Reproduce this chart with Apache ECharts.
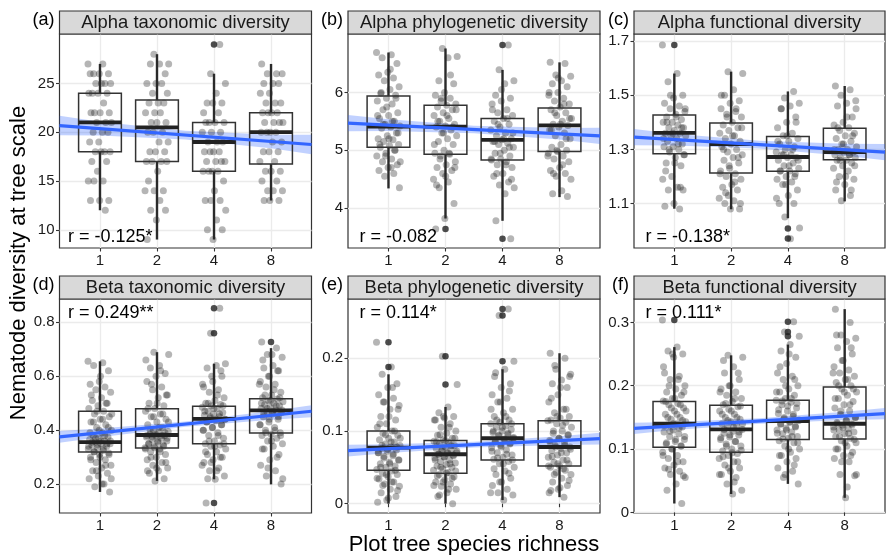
<!DOCTYPE html>
<html><head><meta charset="utf-8">
<script src="https://cdn.jsdelivr.net/npm/echarts@6/dist/echarts.min.js"></script>
<style>html,body{margin:0;padding:0;background:#fff}#c{width:887px;height:555px}</style>
</head><body><div id="c"></div>
<script>
// ---------- DATA ----------
const categories = ['1', '2', '4', '8'];
const panelTitles = ['Alpha taxonomic diversity', 'Alpha phylogenetic diversity', 'Alpha functional diversity',
  'Beta taxonomic diversity', 'Beta phylogenetic diversity', 'Beta functional diversity'];
const panelTags = ['(a)', '(b)', '(c)', '(d)', '(e)', '(f)'];
const rLabels = ['r = -0.125*', 'r = -0.082', 'r = -0.138*', 'r = 0.249**', 'r = 0.114*', 'r = 0.111*'];
const xTitle = 'Plot tree species richness';
const yTitle = 'Nematode diversity at tree scale';

const yTicksAlphaTax = [10, 15, 20, 25];
const yTicksAlphaPhy = [4, 5, 6];
const yTicksAlphaFun = [1.1, 1.3, 1.5, 1.7];
const yTicksBetaTax = [0.2, 0.4, 0.6, 0.8];
const yTicksBetaPhy = [0, 0.1, 0.2];
const yTicksBetaFun = [0, 0.1, 0.2, 0.3];

// box stats per richness level: [lower whisker, Q1, median, Q3, upper whisker]
const boxAlphaTax = [[12, 18, 21, 24, 27], [9, 17, 20.5, 23.3, 28], [9, 16, 19, 21, 26], [13, 16.75, 20, 22, 27]];
const boxAlphaPhy = [[4.34, 5.05, 5.41, 5.94, 6.69], [3.82, 4.93, 5.41, 5.78, 6.76], [3.78, 4.83, 5.18, 5.55, 6.39], [4.19, 4.98, 5.43, 5.73, 6.52]];
const boxAlphaFun = [[1.081, 1.284, 1.361, 1.427, 1.58], [1.079, 1.213, 1.32, 1.397, 1.587], [1.046, 1.219, 1.272, 1.348, 1.514], [1.108, 1.262, 1.29, 1.378, 1.534]];
const boxBetaTax = [[0.171, 0.319, 0.356, 0.47, 0.655], [0.212, 0.334, 0.382, 0.479, 0.689], [0.218, 0.35, 0.442, 0.489, 0.646], [0.199, 0.389, 0.473, 0.516, 0.704]];
const boxBetaPhy = [[0, 0.046, 0.077, 0.1, 0.178], [0, 0.042, 0.068, 0.087, 0.133], [0.005, 0.06, 0.09, 0.11, 0.185], [0.009, 0.052, 0.078, 0.114, 0.207]];
const boxBetaFun = [[0.014, 0.103, 0.14, 0.175, 0.261], [0.029, 0.095, 0.131, 0.169, 0.248], [0.045, 0.115, 0.144, 0.177, 0.265], [0.023, 0.116, 0.14, 0.198, 0.321]];

// outliers: [richness level index (1-4), value]
const outAlphaTax = [[3, 29]];
const outAlphaPhy = [[2, 3.64], [3, 6.82], [3, 3.47]];
const outAlphaFun = [[1, 1.685], [3, 1.008], [3, 0.971]];
const outBetaTax = [[3, 0.852], [3, 0.759], [3, 0.13], [4, 0.727]];
const outBetaPhy = [[1, 0.222], [1, 0.188], [2, 0.203], [2, 0.164], [3, 0.268], [3, 0.259], [3, 0.196]];
const outBetaFun = [[1, 0.304], [3, 0.301], [3, 0.285], [3, 0.278]];

// individual tree values per richness level
const ptsAlphaTax = [
  [27,27,26,26,26,26,25,25,25,25,24,24,24,24,23,22,22,22,22,21,21,21,20,20,20,19,19,18,18,18,18,17,17,16,15,15,15,13,13,13,12],
  [28,27,27,27,26,25,25,25,24,24,23,23,23,22,22,22,21,21,21,20,20,20,19,19,18,18,18,17,17,17,17,16,15,14,14,14,13,12,12,11,9],
  [29,26,25,24,23,23,23,22,22,21,21,21,21,20,20,20,19,19,19,18,18,18,18,17,17,17,17,16,16,16,16,15,14,13,13,13,12,11,10,10,9],
  [27,26,26,26,25,25,25,24,24,23,23,23,22,22,22,22,21,21,21,21,20,20,20,20,19,19,18,18,18,17,17,16,16,16,15,15,14,14,14,13,13,13]
];
const ptsAlphaPhy = [
  [6.69,6.65,6.6,6.5,6.35,6.3,6.25,6.2,6.1,6.05,5.98,5.95,5.9,5.85,5.8,5.7,5.65,5.6,5.55,5.5,5.45,5.42,5.4,5.38,5.3,5.25,5.2,5.18,5.15,5.1,5.08,5.05,5.0,4.95,4.9,4.85,4.8,4.75,4.7,4.65,4.6,4.55,4.35,
   6.4,6.0,5.9,5.75,5.6,5.5,5.45,5.3,5.2,5.1,5.0,4.9,4.8,4.7],
  [6.76,6.62,6.6,6.2,6.15,6.0,5.95,5.9,5.85,5.8,5.78,5.75,5.7,5.65,5.6,5.55,5.5,5.45,5.42,5.4,5.35,5.3,5.25,5.2,5.15,5.1,5.0,4.95,4.93,4.9,4.8,4.75,4.7,4.65,4.6,4.5,4.45,4.35,4.08,3.82,3.64,
   6.3,5.9,5.7,5.6,5.5,5.4,5.3,5.1,4.95,4.85,4.7,4.55,4.4],
  [6.82,6.39,6.2,6.15,5.95,5.9,5.85,5.8,5.7,5.65,5.6,5.55,5.5,5.45,5.4,5.35,5.3,5.25,5.2,5.18,5.15,5.12,5.1,5.05,5.0,4.95,4.9,4.85,4.83,4.8,4.75,4.7,4.6,4.55,4.45,4.4,4.35,4.25,3.78,3.47,
   6.05,5.7,5.55,5.45,5.3,5.2,5.15,5.05,4.95,4.85,4.75,4.6,4.5],
  [6.52,6.5,6.3,6.28,6.2,6.15,6.1,6.0,5.95,5.9,5.85,5.8,5.75,5.7,5.65,5.6,5.55,5.5,5.45,5.43,5.4,5.35,5.3,5.25,5.2,5.1,5.05,5.0,4.98,4.95,4.9,4.85,4.8,4.7,4.65,4.6,4.55,4.5,4.3,4.25,4.2,
   6.25,6.0,5.8,5.65,5.55,5.45,5.35,5.2,5.0,4.9,4.75,4.6]
];
const ptsAlphaFun = [
  [1.685,1.58,1.55,1.5,1.49,1.47,1.46,1.45,1.44,1.43,1.42,1.41,1.4,1.4,1.39,1.38,1.38,1.37,1.36,1.36,1.35,1.35,1.34,1.33,1.32,1.31,1.31,1.3,1.29,1.28,1.27,1.25,1.24,1.2,1.19,1.16,1.15,1.15,1.1,1.09,1.08,
   1.5,1.45,1.42,1.4,1.38,1.36,1.34,1.32,1.3,1.28,1.25,1.22,1.16],
  [1.587,1.58,1.52,1.5,1.48,1.47,1.45,1.44,1.43,1.42,1.4,1.39,1.38,1.37,1.36,1.35,1.34,1.33,1.32,1.31,1.3,1.29,1.28,1.27,1.26,1.25,1.23,1.22,1.21,1.2,1.19,1.17,1.16,1.15,1.13,1.12,1.11,1.1,1.08,1.08,
   1.5,1.45,1.42,1.38,1.35,1.3,1.27,1.24,1.21,1.18,1.14,1.1],
  [1.514,1.49,1.47,1.46,1.45,1.42,1.4,1.38,1.36,1.35,1.34,1.33,1.32,1.31,1.3,1.29,1.28,1.28,1.27,1.27,1.26,1.25,1.24,1.23,1.22,1.22,1.21,1.2,1.19,1.18,1.17,1.15,1.13,1.1,1.1,1.05,1.01,0.97,
   1.45,1.4,1.35,1.33,1.3,1.28,1.26,1.24,1.22,1.2,1.17,1.12],
  [1.534,1.52,1.5,1.48,1.47,1.46,1.42,1.4,1.39,1.38,1.37,1.36,1.35,1.34,1.33,1.32,1.31,1.3,1.3,1.29,1.29,1.28,1.28,1.27,1.27,1.26,1.26,1.25,1.24,1.23,1.22,1.2,1.19,1.17,1.15,1.13,1.11,
   1.45,1.42,1.38,1.35,1.32,1.3,1.28,1.26,1.24,1.2,1.18,1.15]
];
const ptsBetaTax = [
  [0.655,0.65,0.64,0.62,0.58,0.57,0.56,0.55,0.54,0.52,0.51,0.5,0.49,0.48,0.47,0.46,0.45,0.44,0.43,0.42,0.41,0.4,0.39,0.38,0.375,0.37,0.365,0.36,0.356,0.35,0.35,0.345,0.34,0.335,0.33,0.325,0.32,0.315,0.31,0.3,0.29,0.28,0.27,0.26,0.25,0.24,0.23,0.22,0.2,0.19,0.171,
   0.6,0.53,0.5,0.47,0.46,0.44,0.43,0.41,0.4,0.39,0.38,0.37,0.36,0.36,0.355,0.35,0.345,0.34,0.33,0.32,0.31,0.3,0.29,0.27,0.25,0.22,0.2],
  [0.689,0.68,0.64,0.63,0.61,0.6,0.58,0.56,0.55,0.53,0.52,0.5,0.49,0.48,0.47,0.46,0.45,0.44,0.43,0.42,0.41,0.4,0.395,0.39,0.385,0.38,0.38,0.375,0.37,0.365,0.36,0.355,0.35,0.345,0.34,0.335,0.33,0.32,0.31,0.3,0.29,0.28,0.27,0.26,0.25,0.24,0.22,0.212,
   0.66,0.62,0.57,0.53,0.5,0.48,0.46,0.45,0.43,0.41,0.4,0.39,0.385,0.38,0.38,0.375,0.37,0.36,0.35,0.34,0.335,0.33,0.32,0.3,0.28,0.26,0.25],
  [0.852,0.759,0.646,0.64,0.63,0.6,0.58,0.56,0.55,0.54,0.52,0.51,0.5,0.495,0.49,0.485,0.48,0.47,0.465,0.46,0.455,0.45,0.445,0.44,0.435,0.43,0.42,0.41,0.4,0.39,0.38,0.37,0.36,0.35,0.345,0.34,0.33,0.32,0.31,0.3,0.29,0.28,0.26,0.25,0.23,0.218,0.13,
   0.62,0.6,0.57,0.53,0.5,0.49,0.48,0.47,0.46,0.45,0.44,0.44,0.43,0.42,0.41,0.4,0.38,0.36,0.35,0.34,0.32,0.3,0.28,0.27,0.25,0.22],
  [0.727,0.704,0.68,0.67,0.64,0.63,0.62,0.6,0.58,0.57,0.56,0.54,0.53,0.52,0.515,0.51,0.505,0.5,0.495,0.49,0.485,0.48,0.475,0.47,0.465,0.46,0.45,0.44,0.43,0.42,0.41,0.4,0.39,0.385,0.38,0.37,0.36,0.35,0.34,0.33,0.31,0.29,0.27,0.25,0.23,0.2,
   0.68,0.66,0.62,0.6,0.57,0.55,0.53,0.52,0.51,0.5,0.49,0.48,0.475,0.47,0.46,0.45,0.44,0.42,0.4,0.39,0.38,0.36,0.33,0.3,0.26,0.22]
];
const ptsBetaPhy = [
  [0.222,0.188,0.178,0.165,0.16,0.15,0.145,0.14,0.135,0.13,0.12,0.115,0.11,0.105,0.1,0.097,0.094,0.09,0.088,0.085,0.082,0.08,0.078,0.076,0.074,0.072,0.07,0.066,0.063,0.06,0.057,0.055,0.052,0.05,0.047,0.045,0.042,0.04,0.037,0.034,0.03,0.027,0.024,0.02,0.015,0.01,0.005,0.002,
   0.16,0.14,0.13,0.12,0.11,0.1,0.095,0.09,0.085,0.08,0.078,0.075,0.07,0.068,0.065,0.06,0.055,0.05,0.046,0.04,0.035,0.03,0.025,0.018,0.008],
  [0.203,0.164,0.133,0.125,0.12,0.118,0.115,0.11,0.105,0.1,0.097,0.094,0.09,0.088,0.086,0.084,0.082,0.08,0.078,0.076,0.074,0.072,0.07,0.069,0.068,0.067,0.065,0.063,0.06,0.058,0.056,0.054,0.052,0.05,0.048,0.046,0.043,0.04,0.037,0.033,0.03,0.027,0.024,0.02,0.015,0.01,0.0,
   0.12,0.115,0.105,0.095,0.09,0.087,0.085,0.08,0.075,0.072,0.07,0.068,0.066,0.064,0.06,0.055,0.05,0.045,0.042,0.038,0.035,0.03,0.025,0.02,0.012],
  [0.268,0.259,0.196,0.185,0.18,0.165,0.16,0.15,0.145,0.14,0.13,0.125,0.12,0.115,0.112,0.11,0.107,0.105,0.102,0.1,0.098,0.095,0.093,0.09,0.088,0.085,0.082,0.08,0.077,0.074,0.07,0.067,0.064,0.061,0.058,0.055,0.05,0.045,0.04,0.035,0.03,0.025,0.02,0.015,0.012,0.005,
   0.175,0.155,0.14,0.13,0.12,0.115,0.11,0.105,0.1,0.097,0.094,0.091,0.089,0.086,0.083,0.078,0.072,0.068,0.063,0.06,0.055,0.048,0.042,0.03,0.015],
  [0.207,0.2,0.185,0.178,0.17,0.165,0.16,0.15,0.14,0.13,0.125,0.12,0.118,0.115,0.112,0.11,0.105,0.1,0.097,0.094,0.09,0.087,0.084,0.08,0.078,0.076,0.073,0.07,0.067,0.064,0.06,0.057,0.055,0.052,0.05,0.046,0.043,0.04,0.035,0.03,0.025,0.02,0.015,0.009,
   0.19,0.175,0.16,0.145,0.13,0.12,0.114,0.108,0.1,0.095,0.09,0.085,0.08,0.078,0.075,0.07,0.065,0.06,0.055,0.052,0.048,0.04,0.032,0.022,0.018]
];
const ptsBetaFun = [
  [0.304,0.261,0.255,0.25,0.245,0.22,0.215,0.21,0.2,0.195,0.19,0.185,0.18,0.176,0.172,0.17,0.165,0.16,0.155,0.15,0.147,0.143,0.14,0.138,0.135,0.13,0.127,0.124,0.12,0.115,0.112,0.108,0.105,0.1,0.095,0.09,0.085,0.08,0.075,0.07,0.065,0.06,0.055,0.045,0.035,0.014,
   0.25,0.23,0.21,0.2,0.19,0.18,0.175,0.17,0.165,0.16,0.155,0.15,0.145,0.14,0.137,0.133,0.128,0.12,0.115,0.11,0.105,0.1,0.09,0.08,0.068,0.058],
  [0.248,0.245,0.23,0.22,0.21,0.2,0.195,0.19,0.185,0.18,0.175,0.17,0.167,0.163,0.16,0.155,0.15,0.147,0.143,0.14,0.137,0.134,0.131,0.128,0.125,0.122,0.119,0.115,0.112,0.108,0.105,0.1,0.097,0.093,0.09,0.085,0.08,0.075,0.07,0.065,0.06,0.055,0.045,0.035,0.029,
   0.24,0.22,0.2,0.19,0.18,0.172,0.168,0.16,0.155,0.15,0.145,0.14,0.135,0.131,0.127,0.122,0.118,0.112,0.105,0.098,0.094,0.088,0.08,0.07,0.06,0.048],
  [0.301,0.285,0.278,0.265,0.255,0.245,0.235,0.22,0.215,0.21,0.2,0.195,0.19,0.185,0.18,0.177,0.174,0.17,0.165,0.16,0.156,0.152,0.148,0.145,0.142,0.139,0.136,0.133,0.13,0.127,0.124,0.12,0.117,0.113,0.11,0.105,0.1,0.095,0.09,0.085,0.08,0.07,0.065,0.055,0.045,
   0.25,0.23,0.21,0.2,0.19,0.18,0.176,0.172,0.168,0.162,0.155,0.15,0.146,0.143,0.14,0.135,0.13,0.125,0.12,0.116,0.11,0.1,0.09,0.075,0.06],
  [0.321,0.3,0.28,0.275,0.27,0.26,0.25,0.24,0.23,0.225,0.22,0.215,0.21,0.205,0.2,0.195,0.19,0.185,0.18,0.175,0.17,0.165,0.16,0.155,0.15,0.145,0.142,0.14,0.138,0.135,0.132,0.13,0.127,0.124,0.12,0.117,0.113,0.11,0.105,0.1,0.095,0.09,0.085,0.08,0.06,0.058,0.023,
   0.28,0.26,0.24,0.22,0.21,0.2,0.195,0.19,0.18,0.17,0.16,0.15,0.145,0.14,0.138,0.134,0.13,0.125,0.12,0.115,0.11,0.1,0.09,0.08,0.06,0.04]
];

// linear fit: value at the left and right panel edge
const fitAlphaTax = [20.68, 18.74];
const fitAlphaPhy = [5.47, 5.25];
const fitAlphaFun = [1.345, 1.290];
const fitBetaTax = [0.375, 0.470];
const fitBetaPhy = [0.073, 0.0895];
const fitBetaFun = [0.1326, 0.156];

// confidence band [lower, upper] at positions bandPos
const bandPos = [0.29, 1, 2.5, 4, 4.71];
const bandAlphaTax = [[19.68, 19.67, 19.26, 18.35, 17.74], [21.68, 21.07, 20.16, 19.75, 19.74]];
const bandAlphaPhy = [[5.33, 5.335, 5.295, 5.185, 5.11], [5.61, 5.535, 5.425, 5.385, 5.39]];
const bandAlphaFun = [[1.315, 1.314, 1.3035, 1.277, 1.26], [1.375, 1.358, 1.3315, 1.321, 1.32]];
const bandBetaTax = [[0.353, 0.374, 0.4125, 0.439, 0.448], [0.397, 0.406, 0.4325, 0.471, 0.492]];
const bandBetaPhy = [[0.065, 0.0697, 0.0773, 0.0808, 0.0815], [0.081, 0.0817, 0.0853, 0.0928, 0.0975]];
const bandBetaFun = [[0.1236, 0.1299, 0.1398, 0.1458, 0.147], [0.1416, 0.1429, 0.1488, 0.1588, 0.165]];

// ---------- LAYOUT / BUILD ----------
const X_MIN = 0.29, X_MAX = 4.71;
const yRanges = [[8.13, 30.07], [3.31, 7.01], [0.936, 1.726], [0.093, 0.886], [-0.0128, 0.2816], [-0.001, 0.337]];
const FONT = '"Liberation Sans", Arial, Helvetica, sans-serif';
const layout = [
  {left: 59.5, top: 34, width: 252, height: 214},
  {left: 348, top: 34, width: 252, height: 214},
  {left: 634, top: 34, width: 251, height: 214},
  {left: 59.5, top: 299, width: 252, height: 214},
  {left: 348, top: 299, width: 252, height: 214},
  {left: 634, top: 299, width: 251, height: 214}
];
const panels = [
  {ticks: yTicksAlphaTax, box: boxAlphaTax, out: outAlphaTax, pts: ptsAlphaTax, fit: fitAlphaTax, band: bandAlphaTax},
  {ticks: yTicksAlphaPhy, box: boxAlphaPhy, out: outAlphaPhy, pts: ptsAlphaPhy, fit: fitAlphaPhy, band: bandAlphaPhy},
  {ticks: yTicksAlphaFun, box: boxAlphaFun, out: outAlphaFun, pts: ptsAlphaFun, fit: fitAlphaFun, band: bandAlphaFun},
  {ticks: yTicksBetaTax, box: boxBetaTax, out: outBetaTax, pts: ptsBetaTax, fit: fitBetaTax, band: bandBetaTax},
  {ticks: yTicksBetaPhy, box: boxBetaPhy, out: outBetaPhy, pts: ptsBetaPhy, fit: fitBetaPhy, band: bandBetaPhy},
  {ticks: yTicksBetaFun, box: boxBetaFun, out: outBetaFun, pts: ptsBetaFun, fit: fitBetaFun, band: bandBetaFun}
];

const grids = [], xAxes = [], yAxes = [], series = [], graphics = [];
const axisText = {color: '#1a1a1a', fontSize: 15, fontFamily: FONT};

panels.forEach((p, k) => {
  const L = layout[k];
  grids.push({left: L.left, top: L.top, width: L.width, height: L.height, show: true,
    borderColor: '#333', borderWidth: 1.2, backgroundColor: '#fff', containLabel: false});
  xAxes.push({type: 'value', gridIndex: k, min: X_MIN, max: X_MAX,
    axisLine: {show: false},
    axisTick: {show: true, length: 3.5, lineStyle: {color: '#333', width: 1.1}, customValues: [1, 2, 3, 4]},
    axisLabel: Object.assign({margin: 5, customValues: [1, 2, 3, 4], formatter: v => categories[Math.round(v) - 1]}, axisText),
    splitLine: {show: true, lineStyle: {color: '#ebebeb', width: 1.3}}
  });
  yAxes.push({type: 'value', gridIndex: k, min: yRanges[k][0], max: yRanges[k][1],
    axisLine: {show: false},
    axisTick: {show: true, length: 3.5, lineStyle: {color: '#333', width: 1.1}, customValues: p.ticks},
    axisLabel: Object.assign({margin: 5, customValues: p.ticks, formatter: v => String(+v.toFixed(2))}, axisText),
    splitLine: {show: true, lineStyle: {color: '#ebebeb', width: 1.3}}
  });

  // confidence band
  const bandData = bandPos.map((x, i) => [x, p.band[0][i], p.band[1][i]]);
  series.push({type: 'custom', xAxisIndex: k, yAxisIndex: k, z: 1, silent: true,
    data: bandData,
    renderItem: (params, api) => {
      if (params.dataIndex !== 0) return null;
      const up = bandData.map(d => api.coord([d[0], d[2]]));
      const lo = bandData.map(d => api.coord([d[0], d[1]])).reverse();
      return {type: 'polygon', shape: {points: up.concat(lo)}, style: {fill: 'rgba(51,102,255,0.3)'}};
    }
  });

  // jittered points (deterministic horizontal spread)
  const scat = [];
  p.pts.forEach((arr, g) => {
    arr.forEach((v, i) => {
      const off = (((i * 0.6180339887 + g * 0.37) % 1) - 0.5) * 0.42;
      scat.push([g + 1 + off, v]);
    });
  });
  series.push({type: 'scatter', xAxisIndex: k, yAxisIndex: k, z: 2, silent: true,
    symbolSize: 7, data: scat, itemStyle: {color: 'rgba(0,0,0,0.36)'}});

  // boxes
  series.push({type: 'custom', xAxisIndex: k, yAxisIndex: k, z: 3, silent: true,
    data: p.box.map((b, g) => [g + 1].concat(b)),
    renderItem: (params, api) => {
      const x = api.value(0);
      const lo = api.coord([x, api.value(1)]), q1 = api.coord([x - 0.375, api.value(2)]);
      const md = api.coord([x, api.value(3)]), q3 = api.coord([x + 0.375, api.value(4)]);
      const hi = api.coord([x, api.value(5)]);
      return {type: 'group', children: [
        {type: 'line', shape: {x1: md[0], y1: hi[1], x2: md[0], y2: q3[1]}, style: {stroke: '#2a2a2a', lineWidth: 2.4}},
        {type: 'line', shape: {x1: md[0], y1: q1[1], x2: md[0], y2: lo[1]}, style: {stroke: '#2a2a2a', lineWidth: 2.4}},
        {type: 'rect', shape: {x: q1[0], y: q3[1], width: q3[0] - q1[0], height: q1[1] - q3[1]},
          style: {fill: 'none', stroke: '#333', lineWidth: 1.5}},
        {type: 'line', shape: {x1: q1[0], y1: md[1], x2: q3[0], y2: md[1]}, style: {stroke: '#222', lineWidth: 3.8}}
      ]};
    }
  });

  // outliers
  series.push({type: 'scatter', xAxisIndex: k, yAxisIndex: k, z: 4, silent: true,
    symbolSize: 6.5, data: p.out, itemStyle: {color: '#1f1f1f'}});

  // fit line
  series.push({type: 'line', xAxisIndex: k, yAxisIndex: k, z: 5, silent: true, symbol: 'none',
    data: [[X_MIN, p.fit[0]], [X_MAX, p.fit[1]]],
    lineStyle: {color: '#3366ff', width: 3.2}});

  // strip
  const stripTop = L.top - 23;
  graphics.push({type: 'rect', shape: {x: L.left, y: stripTop, width: L.width, height: 23},
    style: {fill: '#d9d9d9', stroke: '#333', lineWidth: 1.2}, z: 10});
  graphics.push({type: 'text', x: L.left + L.width / 2, y: stripTop + 12, z: 11,
    style: {text: panelTitles[k], font: '18.4px ' + FONT, fill: '#1a1a1a', textAlign: 'center', textVerticalAlign: 'middle'}});
  graphics.push({type: 'text', x: L.left - 5, y: stripTop + 9, z: 11,
    style: {text: panelTags[k], font: '18px ' + FONT, fill: '#000', textAlign: 'right', textVerticalAlign: 'middle'}});
  // r label
  const rY = k < 3 ? L.top + L.height - 11 : L.top + 14;
  graphics.push({type: 'text', x: L.left + (k % 3 === 0 ? 8.5 : 11.5), y: rY, z: 11,
    style: {text: rLabels[k], font: '18px ' + FONT, fill: '#000', textAlign: 'left', textVerticalAlign: 'middle'}});
});

graphics.push({type: 'text', x: 474, y: 545, z: 11,
  style: {text: xTitle, font: '22px ' + FONT, fill: '#000', textAlign: 'center', textVerticalAlign: 'middle'}});
graphics.push({type: 'text', x: 19, y: 263, rotation: Math.PI / 2, z: 11,
  style: {text: yTitle, font: '22px ' + FONT, fill: '#000', textAlign: 'center', textVerticalAlign: 'middle'}});

const chart = echarts.init(document.getElementById('c'), null, {renderer: 'canvas'});
chart.setOption({
  animation: false,
  backgroundColor: '#fff',
  grid: grids, xAxis: xAxes, yAxis: yAxes, series: series,
  graphic: graphics
});
</script></body></html>
